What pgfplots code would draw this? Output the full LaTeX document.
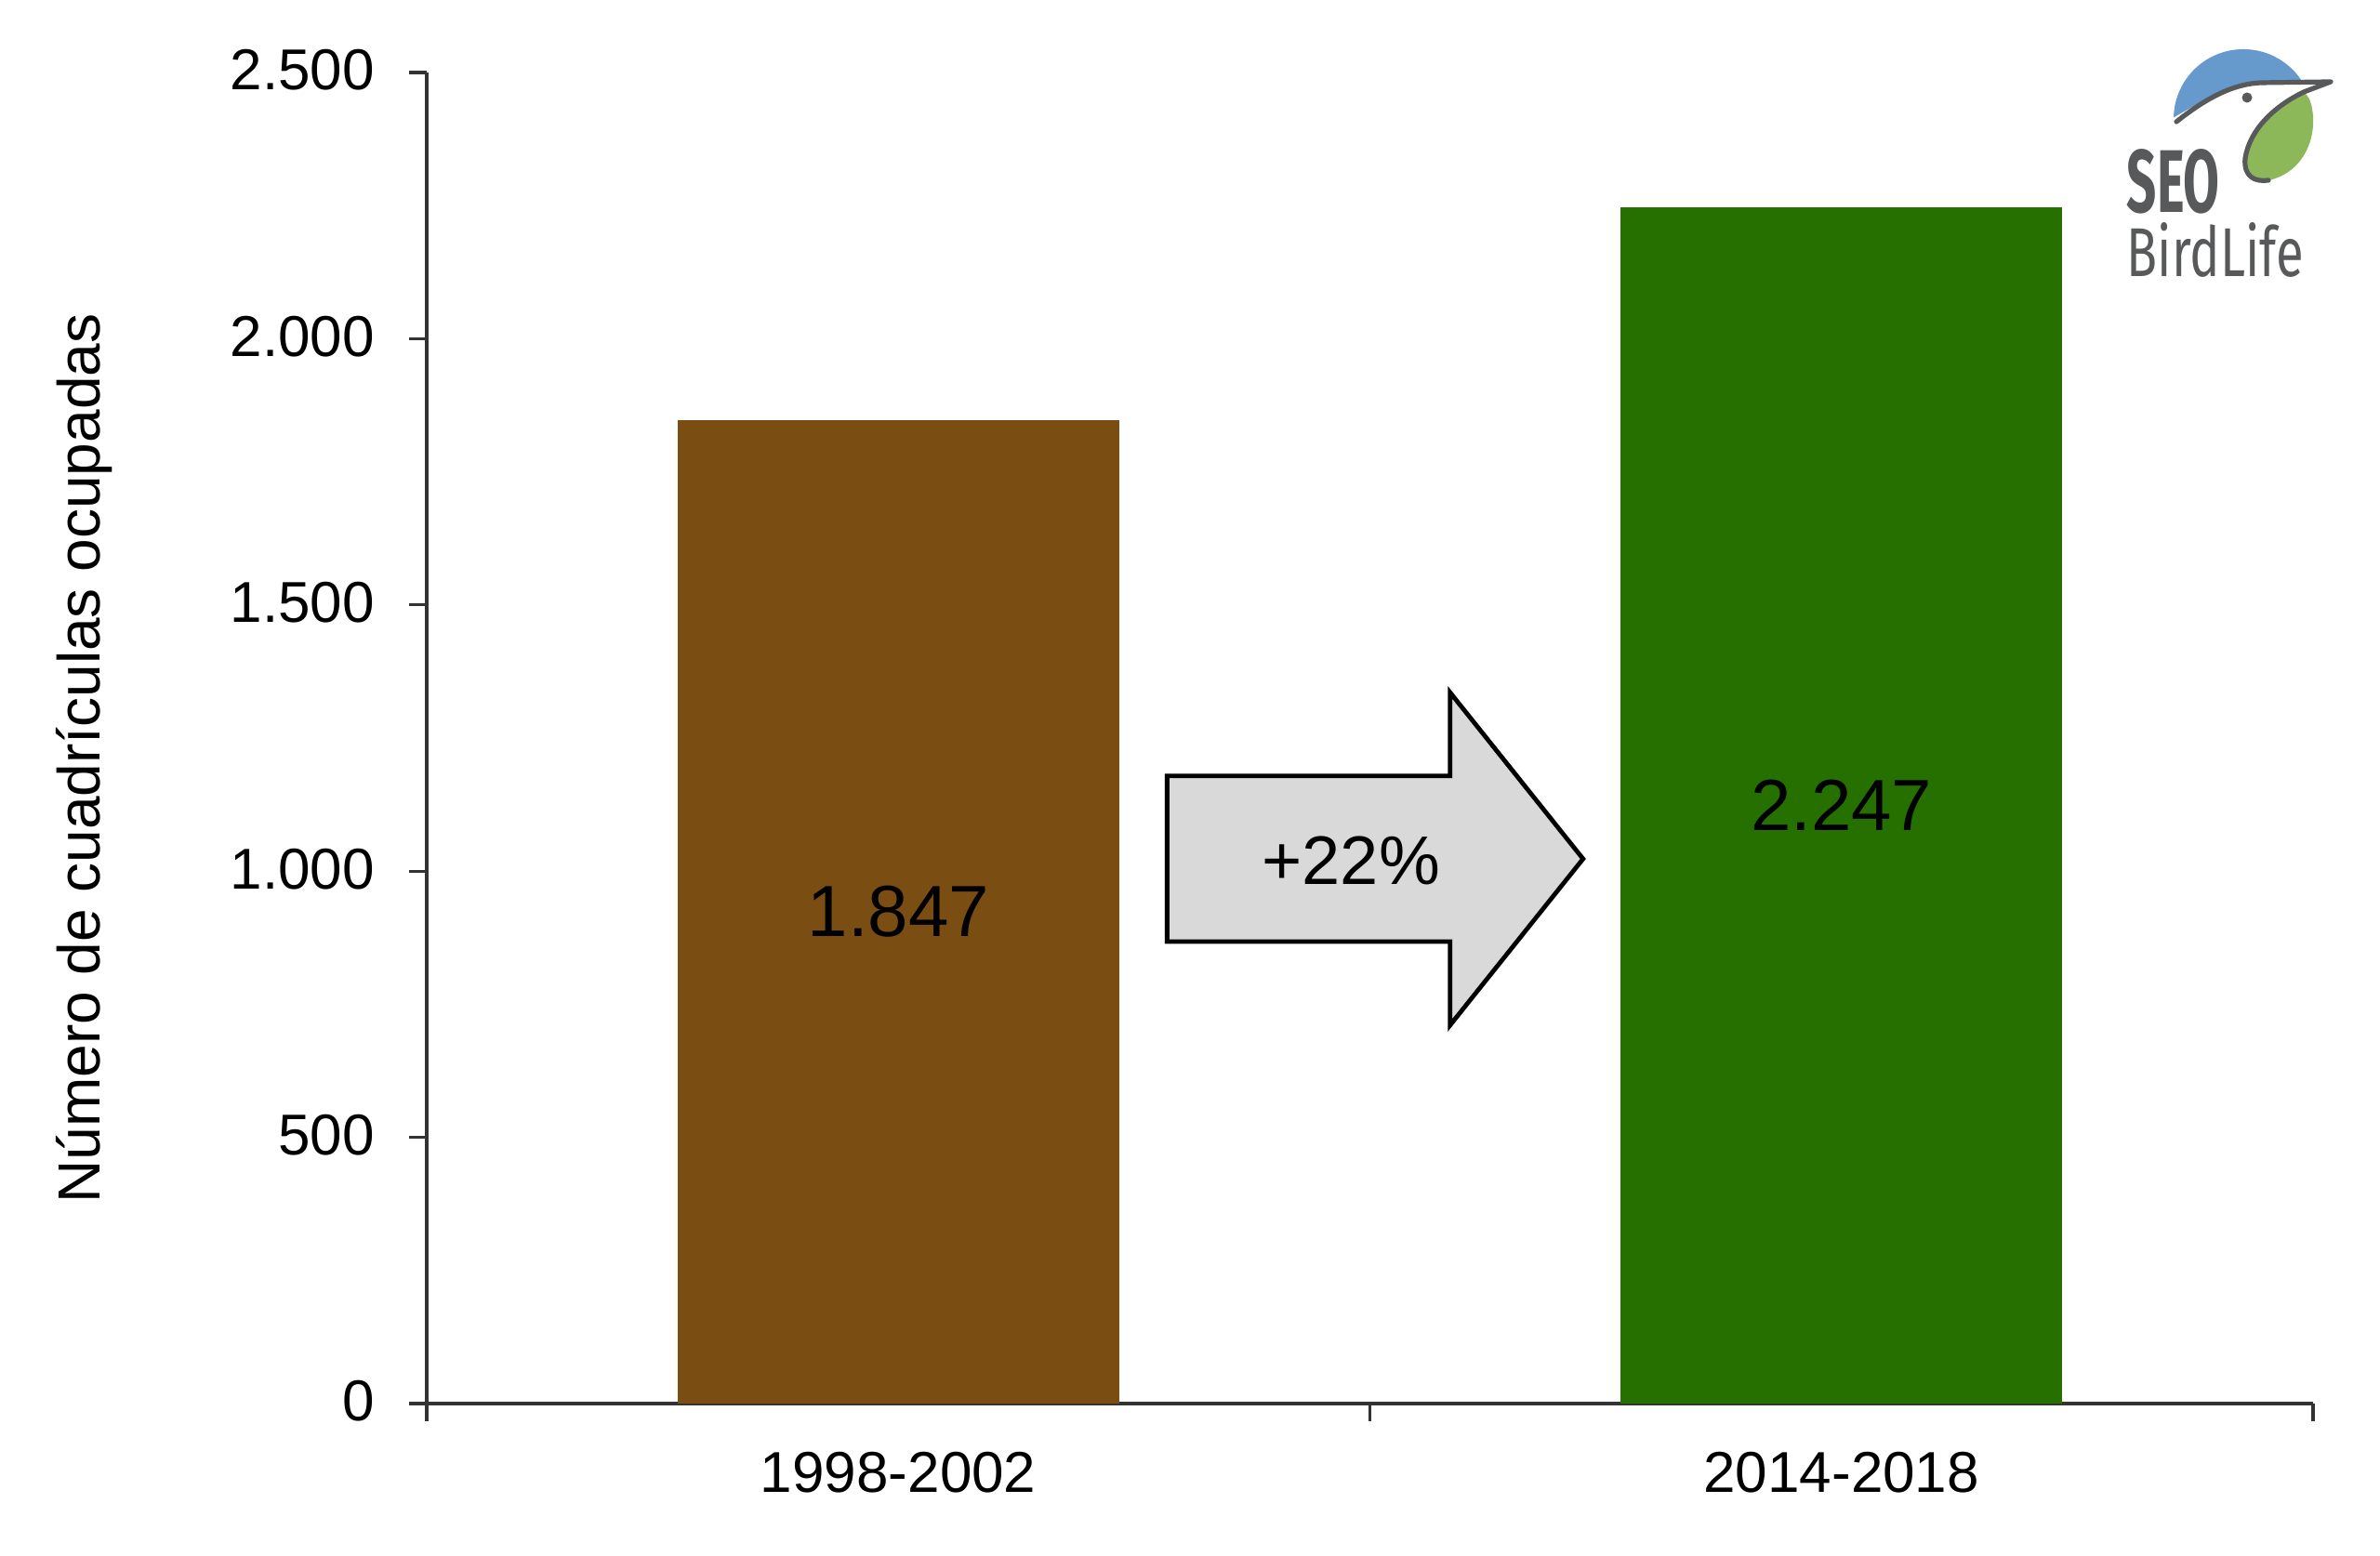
\documentclass[border=0pt]{standalone}
\usepackage{graphicx}
\usepackage{pgfplots}
\pgfplotsset{compat=1.18}
\usepackage{fontspec}
\setmainfont{Liberation Sans}
\newfontfamily\fira{Fira Sans}
\definecolor{barbrown}{HTML}{7A4E12}
\definecolor{bargreen}{HTML}{267000}
\definecolor{axcol}{HTML}{333333}
\definecolor{arrowfill}{HTML}{D9D9D9}
\definecolor{logoblue}{HTML}{6699CC}
\definecolor{logogreen}{HTML}{8DB85A}
\definecolor{logogray}{HTML}{58595B}
\begin{document}
\begin{tikzpicture}
\begin{axis}[
  name=ax,
  scale only axis, width=507.25pt, height=358pt,
  xmin=-0.5, xmax=1.5, ymin=0, ymax=2500,
  axis x line*=bottom, axis y line*=left,
  axis line style={draw=axcol, line width=0.8pt, -},
  xtick={-0.5,0.5,1.5}, xticklabels={},
  extra x ticks={0,1}, extra x tick labels={1998-2002,2014-2018},
  extra x tick style={major tick length=0pt},
  xticklabel style={yshift=-9.5pt},
  ytick={0,500,1000,1500,2000,2500},
  yticklabels={0,500,1.000,1.500,2.000,2.500},
  yticklabel style={xshift=-5.75pt, yshift=0.6pt},
  tick align=outside, major tick length=4.75pt,
  tick style={draw=axcol, line width=0.8pt},
  tick label style={font=\fontsize{15.5}{18.5}\selectfont, text=black},
  clip=false,
]
\addplot[ybar, bar width=0.468, bar shift=0pt, fill=barbrown, draw=none] coordinates {(0,1847)};
\addplot[ybar, bar width=0.468, bar shift=0pt, fill=bargreen, draw=none] coordinates {(1,2247)};
\node[font=\fontsize{19.5}{23}\selectfont] at (axis cs:0,923.5) {1.847};
\node[font=\fontsize{19.5}{23}\selectfont] at (axis cs:1,1123.5) {2.247};
\draw[line width=1.2pt, fill=arrowfill, line join=miter]
  (axis cs:0.285,867.6) -- (axis cs:0.285,1178.7) -- (axis cs:0.585,1178.7)
  -- (axis cs:0.585,1335.6) -- (axis cs:0.726,1023) -- (axis cs:0.585,710.6)
  -- (axis cs:0.585,867.6) -- cycle;
\node[font=\fontsize{18.5}{22}\selectfont] at (axis cs:0.48,1019) {+22\%};
\node[rotate=90, font=\fontsize{16}{19}\selectfont] at (rel axis cs:-0.1814,0.4846) {Número de cuadrículas ocupadas};
\end{axis}
\begin{scope}[shift={([shift={(-114.75pt,19.5pt)}]ax.north west)}, x=0.25pt, y=-0.25pt]
  \begin{scope}
    \clip (2330,131) .. controls (2370,108) and (2400,90) .. (2433,89) -- (2510,86) -- (2510,40) -- (2330,40) -- cycle;
    \fill[logoblue] (2413,128) circle[radius=75];
  \end{scope}
  \fill[logogreen] (2478,99) .. controls (2445,115) and (2420,140) .. (2415,170)
     .. controls (2413,190) and (2425,196) .. (2440,194)
     .. controls (2470,188) and (2490,160) .. (2488,125)
     .. controls (2487,112) and (2484,104) .. (2478,99) -- cycle;
  \draw[logogray, line width=1.3pt, line cap=round, line join=round]
     (2341,131) .. controls (2370,108) and (2400,90) .. (2433,89) -- (2507,88) -- (2478,99)
     .. controls (2445,115) and (2420,140) .. (2415,170)
     .. controls (2413,190) and (2425,196) .. (2440,194);
  \fill[logogray] (2417,105) circle[radius=5.5];
  \node[anchor=north west, inner sep=0, text=logogray] at (2287,160) {\resizebox{25pt}{17pt}{\fira\bfseries SEO}};
  \node[anchor=north west, inner sep=0, text=logogray] at (2287,239) {\resizebox{47.5pt}{14.5pt}{\fira BirdLife}};
\end{scope}
\pgfresetboundingbox
\path ([shift={(-114.75pt,-41pt)}]ax.south west) rectangle ([shift={(18pt,19.5pt)}]ax.north east);
\end{tikzpicture}
\end{document}
